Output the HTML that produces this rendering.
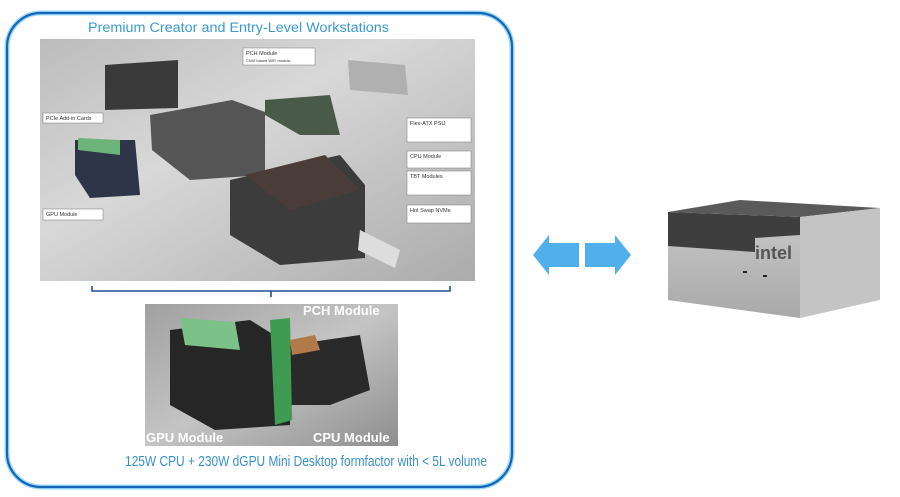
<!DOCTYPE html>
<html><head><meta charset="utf-8"><style>
html,body{margin:0;padding:0;background:#fff;}
body{width:900px;height:492px;overflow:hidden;font-family:"Liberation Sans",sans-serif;}
</style></head><body>
<svg width="900" height="492" viewBox="0 0 900 492" xmlns="http://www.w3.org/2000/svg">
<defs>
<linearGradient id="bg1" x1="0" y1="0" x2="1" y2="1">
<stop offset="0" stop-color="#bcbcbc"/><stop offset="0.4" stop-color="#d8d8d8"/><stop offset="1" stop-color="#ababab"/>
</linearGradient>
<linearGradient id="bg2" x1="0" y1="0" x2="1" y2="1">
<stop offset="0" stop-color="#a0a0a0"/><stop offset="0.5" stop-color="#c4c4c4"/><stop offset="1" stop-color="#8e8e8e"/>
</linearGradient>
<linearGradient id="silver" x1="0" y1="0" x2="0" y2="1">
<stop offset="0" stop-color="#c8c8c8"/><stop offset="1" stop-color="#a9a9a9"/>
</linearGradient>
</defs>
<rect x="7" y="13" width="505" height="474" rx="34" fill="none" stroke="#9ad8f5" stroke-width="5"/>
<rect x="7" y="13" width="505" height="474" rx="34" fill="none" stroke="#1565b8" stroke-width="2.2"/>
<text x="88" y="32" textLength="301" lengthAdjust="spacingAndGlyphs" font-size="13.5" fill="#3a9ad6">Premium Creator and Entry-Level Workstations</text>
<rect x="40" y="39" width="435" height="242" fill="url(#bg1)"/>
<polygon points="105,65 178,60 178,108 105,110" fill="#3a3a3a"/>
<polygon points="150,115 232,100 265,112 265,175 190,180 152,150" fill="#555"/>
<polygon points="75,140 135,140 140,195 90,198 75,175" fill="#2e3548"/>
<polygon points="78,138 120,140 120,155 78,150" fill="#6cb47a"/>
<polygon points="265,100 330,95 340,135 300,135 265,115" fill="#4a5a48"/>
<polygon points="348,60 405,65 408,95 350,90" fill="#b0b0b0"/>
<polygon points="230,180 340,155 365,185 365,258 280,265 230,235" fill="#3c3c3c"/>
<polygon points="245,175 325,155 360,190 290,210" fill="#4a3c38"/>
<polygon points="360,230 400,250 395,268 358,250" fill="#ddd"/>
<g font-size="5.5" fill="#333">
<rect x="243" y="48" width="72" height="17" fill="#fff" stroke="#777" stroke-width="0.5"/><text x="246" y="55">PCH Module</text><text x="246" y="62" font-size="4">CNVi based WiFi module</text>
<rect x="43" y="113" width="60" height="10" fill="#fff" stroke="#777" stroke-width="0.5"/><text x="46" y="120">PCIe Add-in Cards</text>
<rect x="43" y="209" width="60" height="11" fill="#fff" stroke="#777" stroke-width="0.5"/><text x="46" y="216">GPU Module</text>
<rect x="407" y="118" width="64" height="24" fill="#fff" stroke="#777" stroke-width="0.5"/><text x="410" y="125">Flex-ATX PSU</text>
<rect x="407" y="151" width="64" height="17" fill="#fff" stroke="#777" stroke-width="0.5"/><text x="410" y="158">CPU Module</text>
<rect x="407" y="171" width="64" height="24" fill="#fff" stroke="#777" stroke-width="0.5"/><text x="410" y="178">TBT Modules</text>
<rect x="407" y="205" width="64" height="18" fill="#fff" stroke="#777" stroke-width="0.5"/><text x="410" y="212">Hot Swap NVMe</text>
</g>
<path d="M92 286 V291 H450 V286 M271 291 V297" fill="none" stroke="#1a4f9a" stroke-width="1.6"/>
<rect x="145" y="304" width="253" height="142" fill="url(#bg2)"/>
<polygon points="170,330 250,320 290,345 290,425 215,430 170,405" fill="#262626"/>
<polygon points="290,345 360,335 370,390 330,405 290,405" fill="#2a2a2a"/>
<polygon points="180,318 235,322 240,350 185,345" fill="#7cc08a"/>
<polygon points="270,320 290,318 292,420 275,425" fill="#3f9a52"/>
<polygon points="290,340 315,335 320,350 292,355" fill="#b07a4a"/>
<g font-size="13" fill="#fff" font-weight="bold">
<text x="303" y="315">PCH Module</text>
<text x="146" y="442">GPU Module</text>
<text x="313" y="442">CPU Module</text>
</g>
<text x="125" y="466" textLength="362" lengthAdjust="spacingAndGlyphs" font-size="14.5" fill="#3a8fd0">125W  CPU +  230W dGPU  Mini Desktop formfactor   with &lt; 5L volume</text>
<polygon points="533,255 549,235 549,243 579,243 579,267 549,267 549,275" fill="#4fb0ec"/>
<polygon points="585,243 615,243 615,235 631,255 615,275 615,267 585,267" fill="#4fb0ec"/>
<polygon points="668,212 740,200 880,208 800,217" fill="#5a5a5a"/>
<polygon points="668,212 800,217 800,318 668,300" fill="url(#silver)"/>
<polygon points="800,217 880,208 880,300 800,318" fill="#c4c4c4"/>
<polygon points="668,212 800,217 800,235 755,238 755,252 668,246" fill="#3e3e3e"/>
<text x="755" y="259" font-size="18" font-weight="bold" fill="#555">intel</text>
<rect x="743" y="271" width="4" height="2" fill="#222"/><rect x="763" y="275" width="4" height="2" fill="#222"/>
</svg>
</body></html>
